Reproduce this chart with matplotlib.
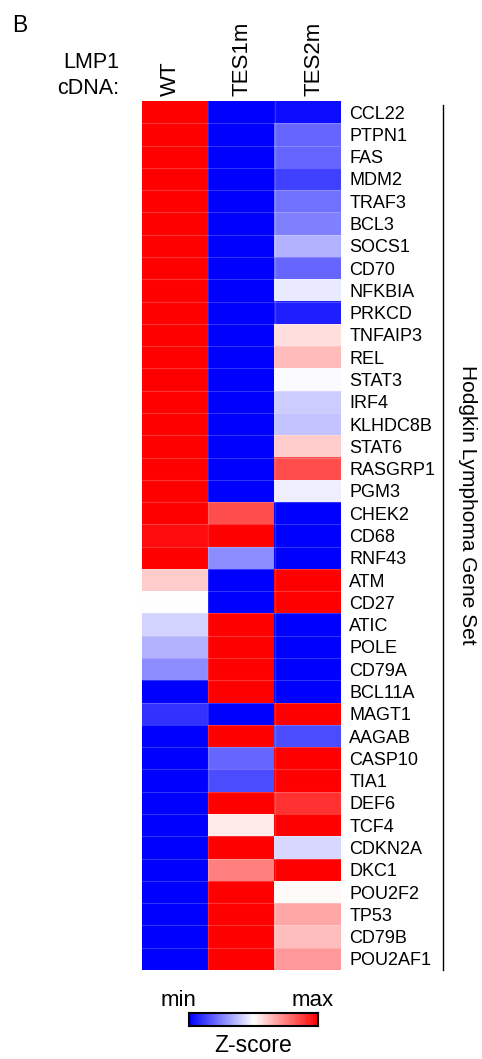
import numpy as np
import matplotlib
matplotlib.use("Agg")
import matplotlib.pyplot as plt

plt.rcParams['font.family'] = ['Liberation Sans', 'DejaVu Sans']

# gene set rows, top to bottom
genes = ["CCL22", "PTPN1", "FAS", "MDM2", "TRAF3", "BCL3", "SOCS1", "CD70",
         "NFKBIA", "PRKCD", "TNFAIP3", "REL", "STAT3", "IRF4", "KLHDC8B",
         "STAT6", "RASGRP1", "PGM3", "CHEK2", "CD68", "RNF43", "ATM", "CD27",
         "ATIC", "POLE", "CD79A", "BCL11A", "MAGT1", "AAGAB", "CASP10", "TIA1",
         "DEF6", "TCF4", "CDKN2A", "DKC1", "POU2F2", "TP53", "CD79B", "POU2AF1"]
columns = ["WT", "TES1m", "TES2m"]

# z-scores scaled to [-1, 1] (min .. max)
wt = [1, 1, 1, 1, 1, 1, 1, 1, 1, 1, 1, 1, 1, 1, 1, 1, 1, 1,
      1, 0.95, 1, 0.2, 0.0, -0.17, -0.3, -0.45, -1, -0.8, -1, -1, -1,
      -1, -1, -1, -1, -1, -1, -1, -1]
tes1m = [-1, -1, -1, -1, -1, -1, -1, -1, -1, -1, -1, -1, -1, -1, -1, -1, -1, -1,
         0.7, 1, -0.45, -1, -1, 1, 1, 1, 1, -1, 1, -0.6, -0.7,
         1, 0.08, 1, 0.5, 1, 1, 1, 1]
tes2m = [-0.95, -0.6, -0.6, -0.75, -0.55, -0.5, -0.3, -0.6, -0.08, -0.88,
         0.13, 0.27, -0.02, -0.2, -0.23, 0.2, 0.7, -0.07,
         -1, -1, -1, 1, 1, -1, -1, -1, -1, 1, -0.7, 1, 1,
         0.8, 1, -0.15, 1, 0.02, 0.35, 0.25, 0.4]

data = np.array([wt, tes1m, tes2m]).T

W, H = 482, 1059
fig = plt.figure(figsize=(W / 100, H / 100), dpi=100)

# main heatmap
ax = fig.add_axes([142 / W, 1 - 970 / H, 199 / W, 869 / H])
ax.imshow(data, cmap="bwr", vmin=-1, vmax=1, aspect="auto", interpolation="nearest")
for i in range(1, len(genes)):
    ax.axhline(i - 0.5, color="white", alpha=0.2, lw=0.8)
for j in range(1, len(columns)):
    ax.axvline(j - 0.5, color="white", alpha=0.15, lw=1)
ax.set_xticks([])
ax.set_yticks(range(len(genes)))
ax.set_yticklabels(genes, fontsize=13)
ax.yaxis.tick_right()
ax.tick_params(axis="y", length=0, pad=6)
for s in ax.spines.values():
    s.set_visible(False)

# column labels
col_x = [170, 242, 314]
for x, c in zip(col_x, columns):
    fig.text(x / W, 1 - 96 / H, c, rotation=90, ha="center", va="bottom", fontsize=16)

fig.text(119 / W, 1 - 62 / H, "LMP1", ha="right", va="center", fontsize=15.5)
fig.text(119 / W, 1 - 88 / H, "cDNA:", ha="right", va="center", fontsize=15.5)
fig.text(12 / W, 1 - 25 / H, "B", ha="left", va="center", fontsize=16.5)

# gene set bracket
fig.add_artist(plt.Line2D([443 / W, 443 / W], [1 - 105 / H, 1 - 970 / H],
                          color="black", lw=1))
fig.text(467 / W, 1 - 505 / H, "Hodgkin Lymphoma Gene Set", rotation=-90,
         ha="center", va="center", fontsize=15)

# colour key
cax = fig.add_axes([189 / W, 1 - 1026 / H, 129 / W, 13 / H])
cax.imshow(np.linspace(-1, 1, 256)[None, :], cmap="bwr", vmin=-1, vmax=1,
           aspect="auto")
cax.set_xticks([])
cax.set_yticks([])
for s in cax.spines.values():
    s.set_linewidth(1.5)
fig.text(178 / W, 1 - 1000 / H, "min", ha="center", va="center", fontsize=16)
fig.text(313 / W, 1 - 1000 / H, "max", ha="center", va="center", fontsize=16)
fig.text(253 / W, 1 - 1045 / H, "Z-score", ha="center", va="center", fontsize=16.5)

fig.savefig("out.png", dpi=100)
